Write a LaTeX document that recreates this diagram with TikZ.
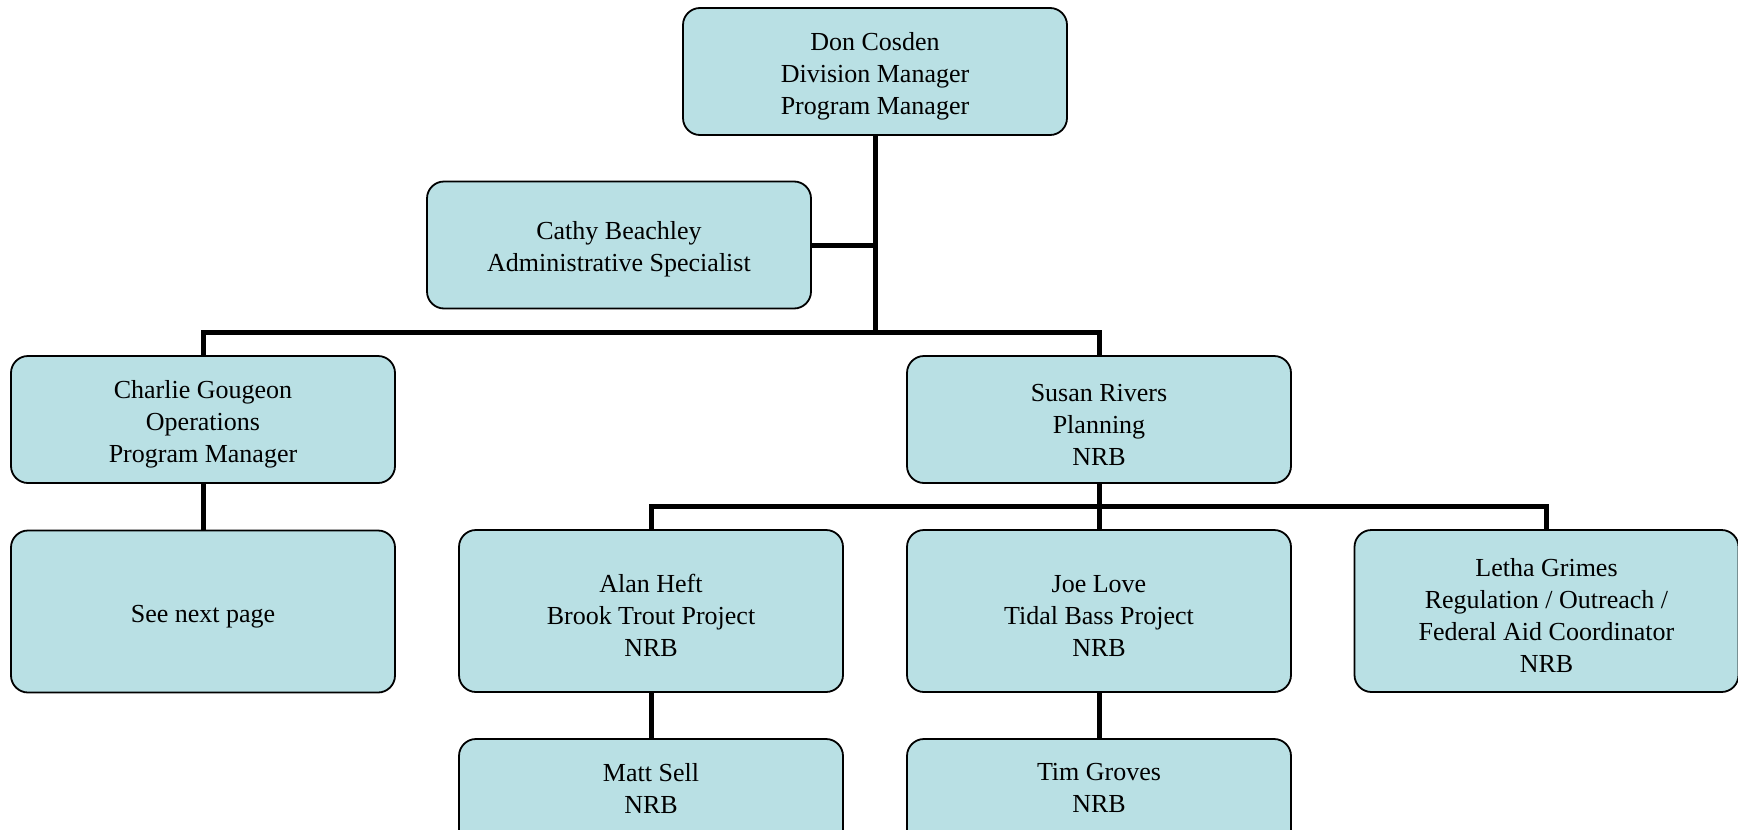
\documentclass[tikz,border=0pt]{standalone}
\usepackage{fontspec}
\setmainfont{Liberation Serif}
\definecolor{boxfill}{HTML}{B9E0E4}
\newcommand{\tallfirst}{\rule{0pt}{27.3pt}}
\newcommand{\deeplast}{\rule[-28.6pt]{0pt}{0pt}}
\begin{document}
\begin{tikzpicture}[x=1pt,y=-1pt,
  box/.style={draw=black,line width=1.8pt,fill=boxfill,rounded corners=17pt,
    minimum width=384pt,minimum height=127pt,align=center,inner sep=0pt,
    font=\fontsize{26}{32}\selectfont},
  tallbox/.style={box,minimum height=162pt},
  conn/.style={line width=5pt}]
\useasboundingbox (0,0) rectangle (1738,830);
\clip (0,0) rectangle (1738,830);
\node[box] (top) at (875,71.5) {\tallfirst Don Cosden\\Division Manager\\Program Manager};
\node[box] (cathy) at (619,245) {\tallfirst Cathy Beachley\\Administrative Specialist};
\node[box] (charlie) at (203,419.5) {\tallfirst Charlie Gougeon\\Operations\\Program Manager};
\node[box] (susan) at (1099,419.5) {\tallfirst Susan Rivers\\Planning\\NRB};
\node[tallbox] (next) at (203,611.5) {\tallfirst See next page};
\node[tallbox] (alan) at (651,611) {\tallfirst Alan Heft\\Brook Trout Project\\NRB};
\node[tallbox] (joe) at (1099,611) {\tallfirst Joe Love\\Tidal Bass Project\\NRB};
\node[tallbox] (letha) at (1546.5,611) {\tallfirst Letha Grimes\\Regulation / Outreach /\\Federal Aid Coordinator\\NRB};
\node[box] (matt) at (651,802.5) {Matt Sell\\NRB\deeplast};
\node[box] (tim) at (1099,802.5) {Tim Groves\\NRB\deeplast};
\coordinate (j1) at (875,332);
\coordinate (j2) at (1099,506);
\draw[conn] (top.south) -- (j1);
\draw[conn] (cathy.east) -- (cathy.east -| j1);
\draw[conn] (charlie.north) |- (j1) -| (susan.north);
\draw[conn] (charlie.south) -- (next.north);
\draw[conn] (susan.south) -- (j2);
\draw[conn] (alan.north) |- (j2) -| (letha.north);
\draw[conn] (j2) -- (joe.north);
\draw[conn] (alan.south) -- (matt.north);
\draw[conn] (joe.south) -- (tim.north);
\end{tikzpicture}
\end{document}
